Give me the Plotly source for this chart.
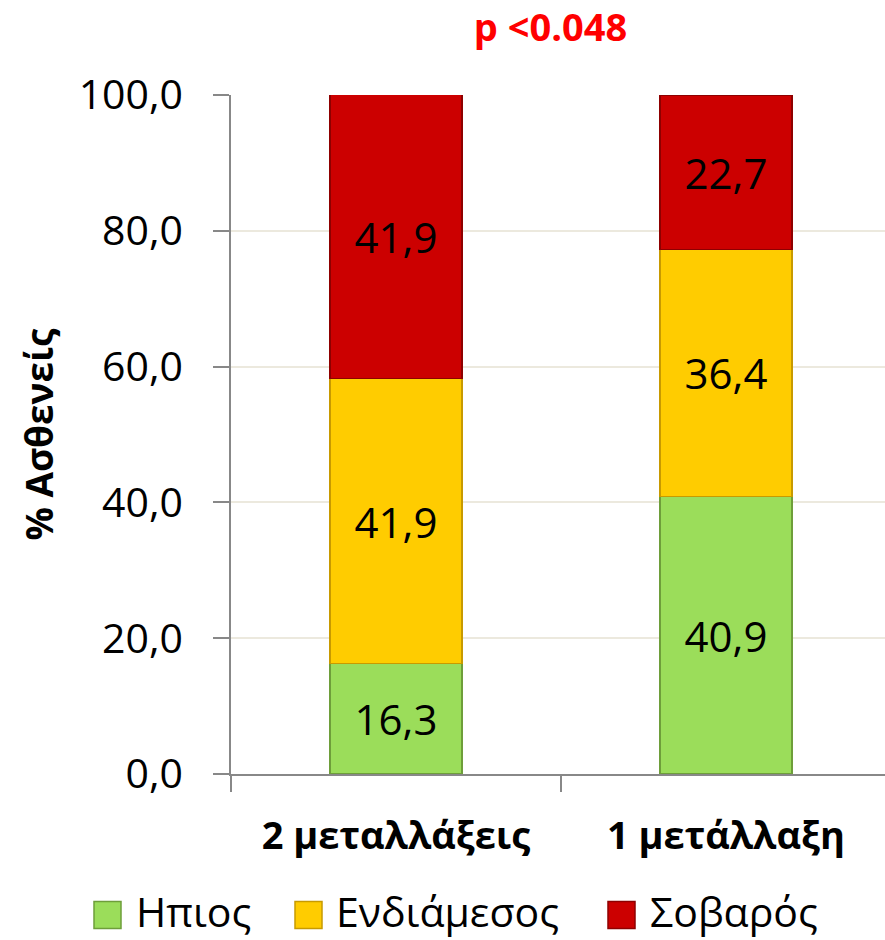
import plotly.graph_objects as go

# Severity distribution (%) by number of mutations
categories = ["2 μεταλλάξεις", "1 μετάλλαξη"]
mild = [16.3, 40.9]
intermediate = [41.9, 36.4]
severe = [41.9, 22.7]
series_names = ["Ηπιος", "Ενδιάμεσος", "Σοβαρός"]
y_ticks = [0, 20, 40, 60, 80, 100]
y_tick_labels = ["0,0", "20,0", "40,0", "60,0", "80,0", "100,0"]

colors = ["#9BDD5A", "#FFCC00", "#CC0000"]
edge_colors = ["#6E9E3A", "#C89A00", "#8E0000"]

FONT = "Open Sans"
W, H = 885, 940
M_L, M_R, M_T, M_B = 231, 0, 95, 166
PLOT_W = W - M_L - M_R
PLOT_H = H - M_T - M_B


def fmt(v):
    return f"{v:.1f}".replace(".", ",")


def px_to_paper(px, py):
    """Convert page pixel position into paper coordinates."""
    return (px - M_L) / PLOT_W, (H - M_B - py) / PLOT_H


fig = go.Figure()
for name, values, c, ec in zip(series_names, [mild, intermediate, severe], colors, edge_colors):
    fig.add_trace(go.Bar(
        name=name,
        x=categories,
        y=values,
        width=0.4,
        marker=dict(color=c, line=dict(color=ec, width=1.2)),
        text=[fmt(v) for v in values],
        textposition="inside",
        insidetextanchor="middle",
        textangle=0,
        textfont=dict(family=FONT, size=42, color="black"),
        hoverinfo="skip",
        showlegend=False,
    ))

# Legend drawn below the chart: swatch + label per series
legend_swatch_left = [94, 295, 608]
legend_text_left = [134, 334, 648]
SW = 27
LEG_Y = 915
TEXT_Y = 911
shapes = []
annotations = []
for name, c, ec, sx, tx in zip(series_names, colors, edge_colors, legend_swatch_left, legend_text_left):
    x0, y0 = px_to_paper(sx, LEG_Y + SW / 2)
    x1, y1 = px_to_paper(sx + SW, LEG_Y - SW / 2)
    shapes.append(dict(type="rect", xref="paper", yref="paper", x0=x0, y0=y0, x1=x1, y1=y1,
                       fillcolor=c, line=dict(color=ec, width=1.5), layer="above"))
    ax, ay = px_to_paper(tx, TEXT_Y)
    annotations.append(dict(text=name, xref="paper", yref="paper", x=ax, y=ay,
                            xanchor="left", yanchor="middle", showarrow=False,
                            font=dict(family=FONT, size=41, color="black")))

fig.update_layout(
    barmode="stack",
    width=W,
    height=H,
    margin=dict(l=M_L, r=M_R, t=M_T, b=M_B),
    paper_bgcolor="white",
    plot_bgcolor="white",
    font=dict(family=FONT, color="black"),
    title=dict(
        text="<b>p <0.048</b>",
        font=dict(family=FONT, size=38, color="#FF0000"),
        x=0.622, xanchor="center", xref="container",
        y=0.971, yanchor="middle", yref="container",
    ),
    showlegend=False,
    shapes=shapes,
    annotations=annotations,
    xaxis=dict(
        range=[-0.5, 1.482],
        showline=True, linecolor="#888888", linewidth=1.5,
        ticks="outside", tickson="boundaries", ticklen=16, tickcolor="#888888", tickwidth=1.5,
        tickfont=dict(family=FONT, size=38, color="black", weight="bold"),
        ticklabelstandoff=28,
        showgrid=False,
    ),
    yaxis=dict(
        range=[0, 100],
        tickvals=y_ticks, ticktext=y_tick_labels,
        showline=True, linecolor="#888888", linewidth=1.5,
        ticks="outside", ticklen=16, tickcolor="#888888", tickwidth=1.5,
        tickfont=dict(family=FONT, size=41, color="black"),
        ticklabelstandoff=22,
        showgrid=True, gridcolor="#ECE9DE", gridwidth=1.5,
        zeroline=False,
        title=dict(text="<b>% Ασθενείς</b>", font=dict(family=FONT, size=37, color="black"), standoff=14),
    ),
)

fig.write_html("out.html")
